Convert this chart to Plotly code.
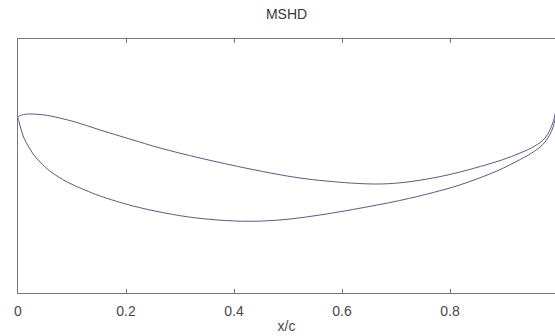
import plotly.graph_objects as go

# Airfoil "MSHD" coordinates (x/c, y/c), trailing edge -> leading edge
x_upper = [1.000, 0.991, 0.976, 0.957, 0.930, 0.896, 0.856, 0.815, 0.778, 0.741,
           0.704, 0.667, 0.615, 0.522, 0.430, 0.337, 0.263, 0.207, 0.152, 0.106,
           0.06, 0.041, 0.022, 0.007, 0.0]
y_upper = [0.020, -0.005, -0.021, -0.029, -0.036, -0.043, -0.0495, -0.0555, -0.060, -0.0635,
           -0.066, -0.067, -0.066, -0.061, -0.052, -0.041, -0.031, -0.022, -0.013, -0.005,
           0.001, 0.0025, 0.003, 0.002, 0.0]

x_lower = [0.0, 0.002, 0.006, 0.011, 0.019, 0.028, 0.041, 0.059, 0.091, 0.124,
           0.152, 0.213, 0.272, 0.331, 0.402, 0.454, 0.504, 0.559, 0.620, 0.707,
           0.769, 0.815, 0.852, 0.889, 0.930, 0.957, 0.976, 0.991, 1.000]
y_lower = [0.0, -0.005, -0.013, -0.021, -0.029, -0.037, -0.045, -0.054, -0.065, -0.073,
           -0.079, -0.089, -0.096, -0.101, -0.104, -0.104, -0.102, -0.098, -0.0925, -0.0835,
           -0.0755, -0.0685, -0.0615, -0.0535, -0.0425, -0.034, -0.025, -0.010, 0.020]

x_ticks = [0, 0.2, 0.4, 0.6, 0.8, 1.0]
x_ticklabels = ["0", "0.2", "0.4", "0.6", "0.8", "1"]

fig = go.Figure()
fig.add_trace(go.Scatter(
    x=x_upper + x_lower[1:],
    y=y_upper + y_lower[1:],
    mode="lines",
    line=dict(color="#5a5a88", width=1, shape="spline", smoothing=1.0),
    hoverinfo="skip",
    showlegend=False,
))

W, H = 555, 336
L, R, T, B = 18, 0, 39, 43
px_per_unit = 540.0
fig.update_layout(
    width=W, height=H,
    margin=dict(l=L, r=R, t=T, b=B),
    paper_bgcolor="white", plot_bgcolor="white",
    font=dict(family="Liberation Sans, Arial, sans-serif", size=14, color="#484848"),
    title=dict(text="MSHD", x=0.5, xref="paper", y=1 - 14 / H, yanchor="middle",
               font=dict(size=14, color="#383838")),
    xaxis=dict(
        range=[0, (W - L - R) / px_per_unit],
        tickvals=x_ticks, ticktext=x_ticklabels,
        ticks="inside", ticklen=4, tickcolor="#777", tickwidth=1,
        ticklabelstandoff=5,
        showline=True, linecolor="#777", linewidth=1, mirror="ticks",
        showgrid=False, zeroline=False,
        title=dict(text="x/c", standoff=3, font=dict(size=14, color="#484848")),
    ),
    yaxis=dict(
        range=[-0.176, 0.078],
        showticklabels=False, ticks="",
        showline=True, linecolor="#777", linewidth=1, mirror=False,
        showgrid=False, zeroline=False,
    ),
)

fig.write_html("out.html")
